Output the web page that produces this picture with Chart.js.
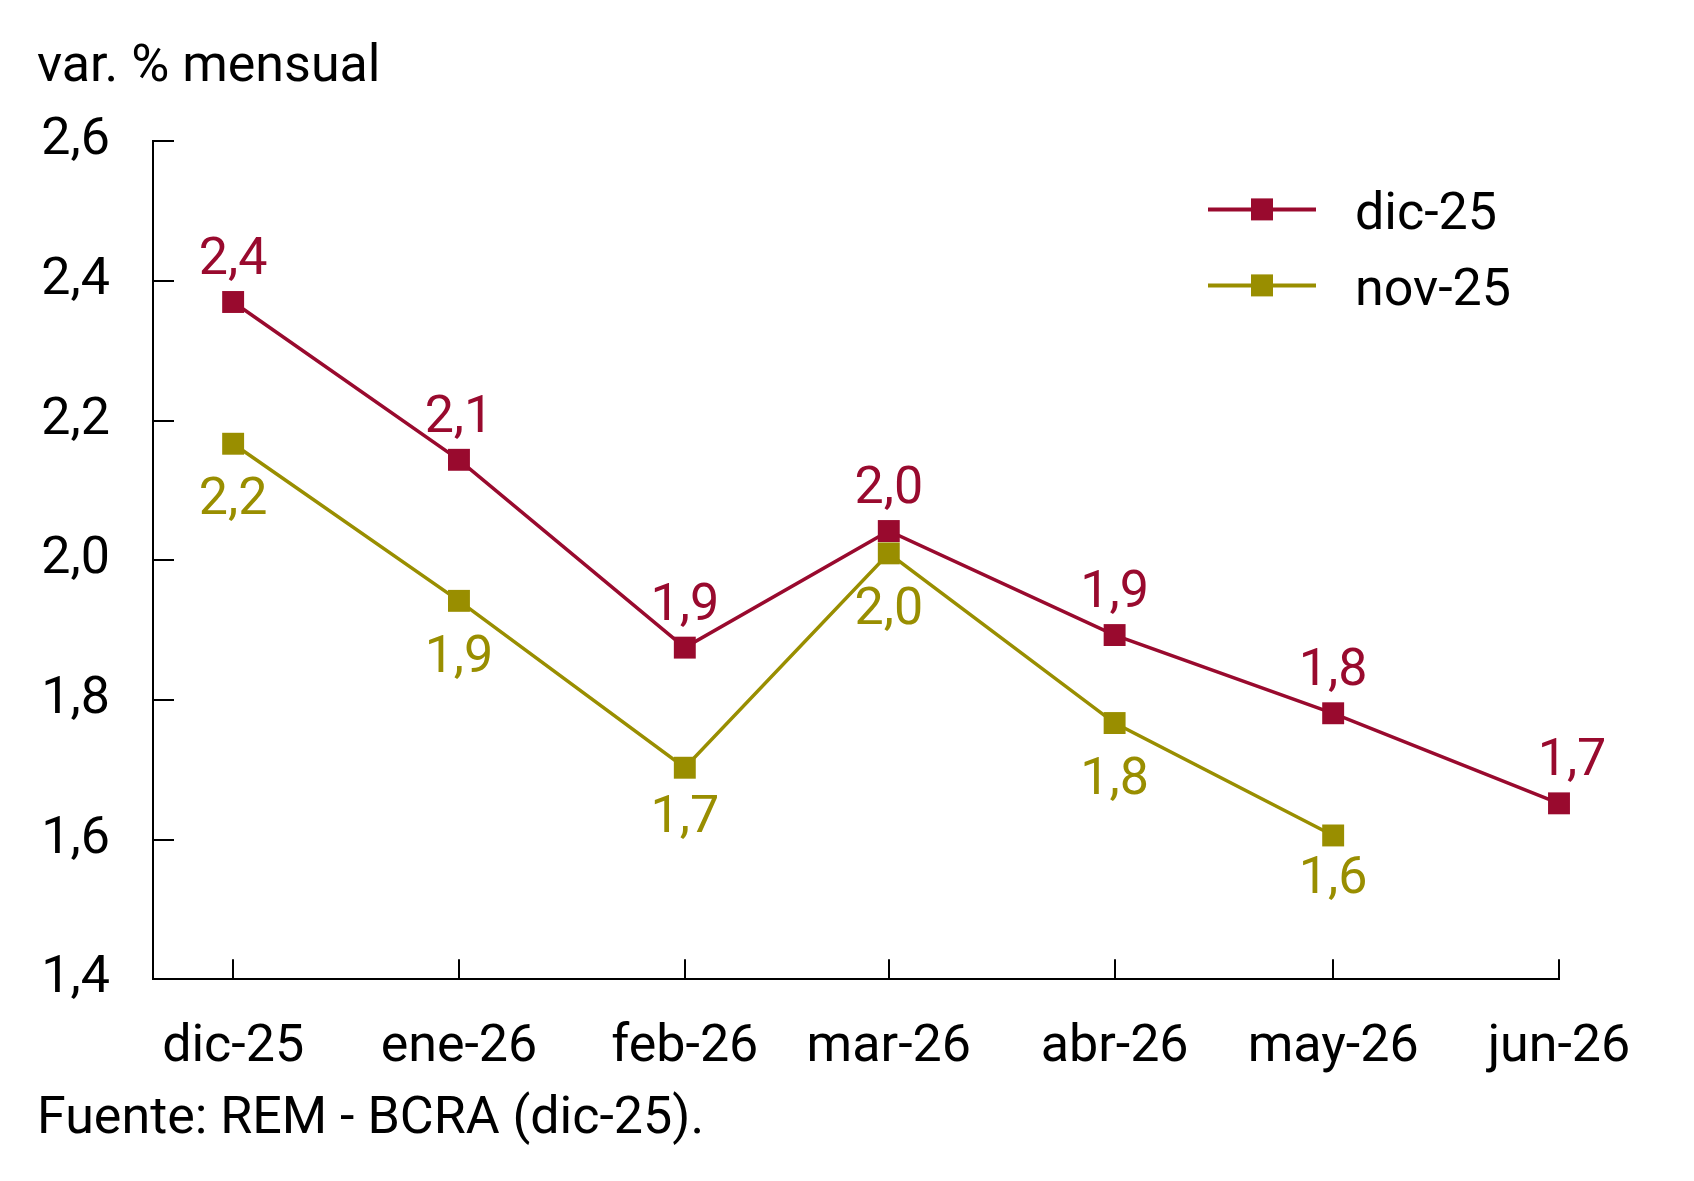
<!DOCTYPE html>
<html lang="es">
<head>
<meta charset="UTF-8">
<title>REM - variación mensual esperada</title>
<script src="https://cdn.jsdelivr.net/npm/chart.js"></script>
<style>
  html, body { margin: 0; padding: 0; background: #fff; }
  #wrap { width: 1694px; height: 1181px; }
</style>
</head>
<body>
<div id="wrap"><canvas id="grafico"></canvas></div>
<script>
const meses = ['dic-25', 'ene-26', 'feb-26', 'mar-26', 'abr-26', 'may-26', 'jun-26'];
const inicioMes = ['2025-12-01', '2026-01-01', '2026-02-01', '2026-03-01', '2026-04-01', '2026-05-01', '2026-06-01'];
const ejeDesde = '2025-11-20';
const remDic25 = [2.370, 2.144, 1.875, 2.042, 1.893, 1.781, 1.652];
const remNov25 = [2.167, 1.942, 1.703, 2.010, 1.767, 1.606];
const yMin = 1.4, yMax = 2.6, yPaso = 0.2;
const titulo = 'var. % mensual';
const fuente = 'Fuente: REM - BCRA (dic-25).';

const ROJO = '#990A2E';
const OLIVA = '#998E00';
const FUENTE = 'Roboto';

const dia = s => Date.parse(s) / 86400000;
const xMeses = inicioMes.map(dia);
const coma = v => v.toFixed(1).replace('.', ',');

// etiquetas de valor sobre / bajo cada punto
const etiquetasPlugin = {
    id: 'etiquetas',
    afterDatasetsDraw(chart) {
        const ctx = chart.ctx;
        ctx.save();
        ctx.font = '52px ' + FUENTE;
        ctx.textAlign = 'center';
        ctx.textBaseline = 'alphabetic';
        chart.data.datasets.forEach((ds, i) => {
            const meta = chart.getDatasetMeta(i);
            ctx.fillStyle = ds.borderColor;
            meta.data.forEach((pt, j) => {
                let dy = ds.etiqueta === 'arriba' ? -28 : 70.5;
                dy += (ds.etiquetaDy && ds.etiquetaDy[j]) || 0;
                const dx = (ds.etiquetaDx && ds.etiquetaDx[j]) || 0;
                ctx.fillText(coma(ds.data[j].y), pt.x + dx, pt.y + dy);
            });
        });
        ctx.restore();
    }
};

// leyenda con linea + marcador
const leyendaPlugin = {
    id: 'leyenda',
    afterDraw(chart) {
        const { ctx, chartArea } = chart;
        const x0 = chartArea.right - 351;
        const y0 = chartArea.top + 68;
        ctx.save();
        ctx.font = '52px ' + FUENTE;
        ctx.textAlign = 'left';
        ctx.textBaseline = 'alphabetic';
        chart.data.datasets.forEach((ds, i) => {
            const y = y0 + i * 76;
            ctx.strokeStyle = ds.borderColor;
            ctx.lineWidth = 4;
            ctx.beginPath();
            ctx.moveTo(x0, y);
            ctx.lineTo(x0 + 108, y);
            ctx.stroke();
            ctx.fillStyle = ds.borderColor;
            ctx.fillRect(x0 + 54 - 11, y - 11, 22, 22);
            ctx.fillStyle = '#000';
            ctx.fillText(ds.label, x0 + 147, y + 20);
        });
        ctx.restore();
    }
};

Chart.defaults.font.family = FUENTE;
Chart.defaults.font.size = 52;
Chart.defaults.color = '#000';

const ctx = document.getElementById('grafico').getContext('2d');
const grafico = new Chart(ctx, {
    type: 'line',
    data: {
        datasets: [{
            label: 'dic-25',
            data: remDic25.map((v, i) => ({ x: xMeses[i], y: v })),
            borderColor: ROJO,
            backgroundColor: ROJO,
            borderWidth: 3.5,
            pointStyle: 'rect',
            pointRadius: 15.5,
            pointBorderWidth: 0,
            pointBackgroundColor: ROJO,
            tension: 0,
            clip: false,
            etiqueta: 'arriba',
            etiquetaDx: [0, 0, 0, 0, 0, 0, 13]
        }, {
            label: 'nov-25',
            data: remNov25.map((v, i) => ({ x: xMeses[i], y: v })),
            borderColor: OLIVA,
            backgroundColor: OLIVA,
            borderWidth: 3.5,
            pointStyle: 'rect',
            pointRadius: 15.5,
            pointBorderWidth: 0,
            pointBackgroundColor: OLIVA,
            tension: 0,
            clip: false,
            etiqueta: 'abajo',
            etiquetaDy: [0, 1, -6, 0, 0, -13]
        }]
    },
    options: {
        responsive: true,
        maintainAspectRatio: false,
        animation: false,
        layout: { padding: { left: 37, right: 135, top: 37, bottom: 29.5 } },
        plugins: {
            legend: { display: false },
            tooltip: { enabled: false },
            title: {
                display: true,
                text: titulo,
                align: 'start',
                color: '#000',
                font: { size: 52, weight: 'normal' },
                padding: { top: 0, bottom: 42 }
            },
            subtitle: {
                display: true,
                text: fuente,
                position: 'bottom',
                align: 'start',
                color: '#000',
                font: { size: 52, weight: 'normal' },
                padding: { top: 0, bottom: 0 }
            }
        },
        scales: {
            x: {
                type: 'linear',
                min: dia(ejeDesde),
                max: xMeses[xMeses.length - 1],
                afterBuildTicks: scale => {
                    scale.ticks = xMeses.map(v => ({ value: v }));
                },
                afterFit: scale => { scale.height = 109.8; },
                ticks: {
                    autoSkip: false,
                    maxRotation: 0,
                    minRotation: 0,
                    padding: 57,
                    callback: v => meses[xMeses.indexOf(v)]
                },
                grid: {
                    drawOnChartArea: false,
                    drawTicks: true,
                    tickLength: -20,
                    color: '#000',
                    lineWidth: 2
                },
                border: { display: true, color: '#000', width: 2 }
            },
            y: {
                min: yMin,
                max: yMax,
                afterFit: scale => { scale.width = 116; },
                ticks: {
                    stepSize: yPaso,
                    padding: 64,
                    callback: v => coma(v)
                },
                grid: {
                    drawOnChartArea: false,
                    drawTicks: true,
                    tickLength: -21,
                    color: '#000',
                    lineWidth: 2
                },
                border: { display: true, color: '#000', width: 2 }
            }
        }
    },
    plugins: [etiquetasPlugin, leyendaPlugin]
});
</script>
</body>
</html>
